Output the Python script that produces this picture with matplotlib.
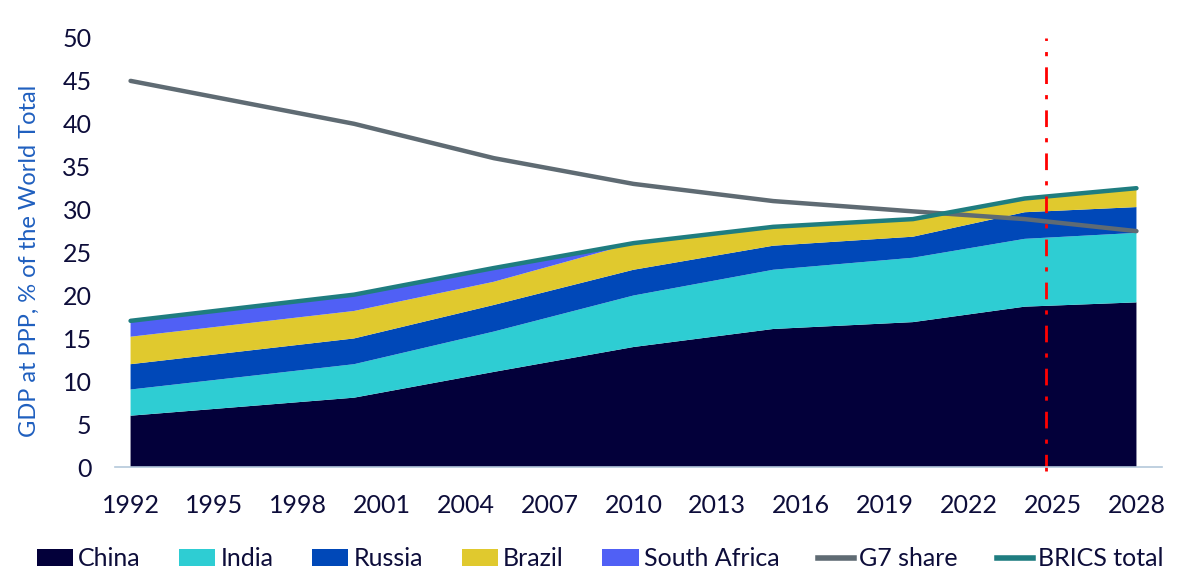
import matplotlib
matplotlib.use("Agg")
import matplotlib.pyplot as plt
from matplotlib.patches import Patch
from matplotlib.lines import Line2D
import numpy as np

years = [1992, 2000, 2005, 2010, 2015, 2020, 2024, 2028]
china = [6.0, 8.1, 11.1, 14.0, 16.1, 16.9, 18.7, 19.2]
india = [3.05, 3.9, 4.7, 6.0, 6.9, 7.5, 7.9, 8.1]
russia = [2.95, 3.0, 3.1, 3.0, 2.8, 2.45, 3.1, 3.0]
brazil = [3.2, 3.2, 2.7, 3.1, 2.2, 2.05, 1.6, 2.2]
south_africa = [1.85, 1.9, 1.6, 0.0, 0.0, 0.0, 0.0, 0.0]
g7_share = [45.0, 40.0, 36.0, 33.0, 31.0, 29.8, 28.9, 27.5]
brics_total = [17.05, 20.1, 23.2, 26.1, 28.0, 28.9, 31.3, 32.5]
xtick_years = list(range(1992, 2029, 3))
forecast_year = 2024.75

c_china = "#03003a"
c_india = "#2ecdd3"
c_russia = "#0048b8"
c_brazil = "#e0c92e"
c_sa = "#5060f5"
c_g7 = "#5f6b73"
c_brics = "#1f7d80"
text_col = "#0d0d3a"

plt.rcParams['font.family'] = ['Lato', 'DejaVu Sans']

fig = plt.figure(figsize=(12, 5.84), dpi=100)
ax = fig.add_axes([0.096, 0.200, 0.872, 0.735])

ax.stackplot(years, china, india, russia, brazil, south_africa,
             colors=[c_china, c_india, c_russia, c_brazil, c_sa], linewidth=0)
ax.plot(years, g7_share, color=c_g7, lw=3.2, solid_capstyle='round')
ax.plot(years, brics_total, color=c_brics, lw=3.2, solid_capstyle='round')
ax.axvline(forecast_year, ymin=-0.01, ymax=1.0, color="red", lw=2,
           linestyle=(0, (6, 4, 1.5, 4)), clip_on=False)

ax.set_xlim(1991.45, 2028.9)
ax.set_ylim(0, 50)
ax.set_yticks(np.arange(0, 51, 5))
ax.set_xticks(xtick_years)
ax.tick_params(axis='both', length=0, labelsize=18, colors=text_col)
ax.tick_params(axis='x', pad=19)
ax.tick_params(axis='y', pad=17)
for s in ['top', 'right', 'left']:
    ax.spines[s].set_visible(False)
ax.spines['bottom'].set_color("#b4c8da")
ax.spines['bottom'].set_linewidth(1.2)

ax.set_ylabel("GDP at PPP, % of the World Total", color="#1f5fbf", fontsize=17, labelpad=11)
ax.yaxis.set_label_coords(-0.072, 0.48)

handles = [
    Patch(facecolor=c_china, label="China"),
    Patch(facecolor=c_india, label="India"),
    Patch(facecolor=c_russia, label="Russia"),
    Patch(facecolor=c_brazil, label="Brazil"),
    Patch(facecolor=c_sa, label="South Africa"),
    Line2D([0], [0], color=c_g7, lw=4, label="G7 share"),
    Line2D([0], [0], color=c_brics, lw=4, label="BRICS total"),
]
leg = fig.legend(handles=handles, loc='center', bbox_to_anchor=(0.5, 0.043), ncol=7,
                 frameon=False, fontsize=18, handlelength=1.45, handleheight=0.64,
                 handletextpad=0.2, columnspacing=1.55)
for t in leg.get_texts():
    t.set_color(text_col)

fig.savefig("out.png", dpi=100)
